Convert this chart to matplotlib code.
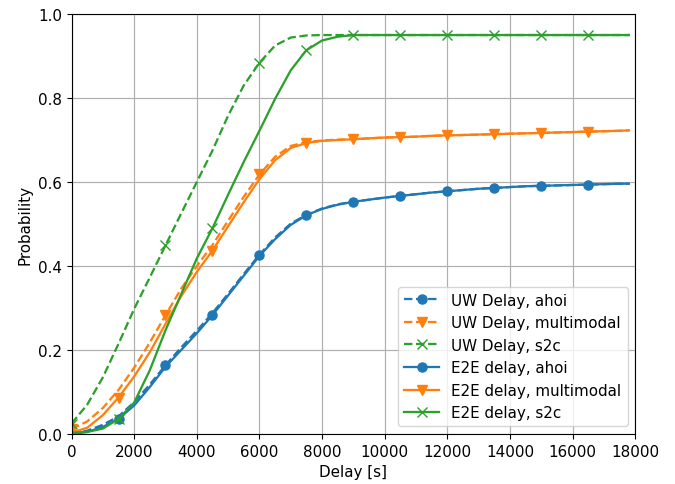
import matplotlib
matplotlib.use("Agg")
import matplotlib.pyplot as plt
import numpy as np

S = 1.09
plt.rcParams['font.size'] = 10 * S

delay = list(range(0, 17501, 500)) + [17800]

# tails (x >= 9000, 19 points) shared
blue_tail = [0.553, 0.558, 0.563, 0.567, 0.571, 0.575, 0.578, 0.581, 0.584, 0.586,
             0.588, 0.590, 0.591, 0.592, 0.593, 0.594, 0.595, 0.596, 0.596]
orange_tail = [0.702, 0.704, 0.706, 0.707, 0.708, 0.710, 0.711, 0.712, 0.713, 0.714,
               0.715, 0.716, 0.717, 0.718, 0.719, 0.720, 0.721, 0.722, 0.723]
green_tail = [0.950] * 19

uw_ahoi = [0.0, 0.008, 0.022, 0.042, 0.076, 0.118, 0.164, 0.206, 0.246, 0.288,
           0.334, 0.381, 0.427, 0.468, 0.501, 0.522, 0.537, 0.547] + blue_tail
uw_multimodal = [0.012, 0.030, 0.062, 0.105, 0.158, 0.218, 0.283, 0.346, 0.400, 0.450,
                 0.508, 0.565, 0.618, 0.660, 0.686, 0.695, 0.699, 0.701] + orange_tail
uw_s2c = [0.025, 0.070, 0.135, 0.215, 0.298, 0.373, 0.449, 0.525, 0.600, 0.675,
          0.758, 0.830, 0.884, 0.925, 0.944, 0.949, 0.950, 0.950] + green_tail

e2e_ahoi = [0.0, 0.005, 0.017, 0.036, 0.068, 0.112, 0.160, 0.200, 0.240, 0.283,
            0.330, 0.377, 0.424, 0.464, 0.498, 0.521, 0.536, 0.546] + blue_tail
e2e_multimodal = [0.003, 0.015, 0.045, 0.087, 0.137, 0.195, 0.262, 0.328, 0.386, 0.437,
                  0.495, 0.552, 0.607, 0.652, 0.681, 0.693, 0.698, 0.700] + orange_tail
e2e_s2c = [0.003, 0.005, 0.013, 0.036, 0.075, 0.152, 0.247, 0.333, 0.418, 0.490,
           0.570, 0.648, 0.722, 0.798, 0.866, 0.914, 0.937, 0.946] + green_tail

labels = ["UW Delay, ahoi", "UW Delay, multimodal", "UW Delay, s2c",
          "E2E delay, ahoi", "E2E delay, multimodal", "E2E delay, s2c"]

fig = plt.figure(figsize=(6.75, 4.85), dpi=100)
ax = fig.add_axes([0.106, 0.103, 0.835, 0.866])

lw = 1.5 * S
ms = 6 * S
c_b, c_o, c_g = "#1f77b4", "#ff7f0e", "#2ca02c"
ax.plot(delay, uw_ahoi, '--', color=c_b, marker='o', lw=lw, ms=ms, markevery=slice(0, 35, 6), label=labels[0])
ax.plot(delay, uw_multimodal, '--', color=c_o, marker='v', lw=lw, ms=ms, markevery=slice(0, 35, 6), label=labels[1])
ax.plot(delay, uw_s2c, '--', color=c_g, marker='x', lw=lw, ms=ms, markevery=slice(0, 35, 6), label=labels[2])
ax.plot(delay, e2e_ahoi, '-', color=c_b, marker='o', lw=lw, ms=ms, markevery=slice(3, 35, 6), label=labels[3])
ax.plot(delay, e2e_multimodal, '-', color=c_o, marker='v', lw=lw, ms=ms, markevery=slice(3, 35, 6), label=labels[4])
ax.plot(delay, e2e_s2c, '-', color=c_g, marker='x', lw=lw, ms=ms, markevery=slice(3, 35, 6), label=labels[5])

ax.set_xlim(0, 18000)
ax.set_ylim(0, 1.0)
ax.set_xticks(range(0, 18001, 2000))
ax.set_yticks(np.arange(0, 1.01, 0.2))
ax.grid(True, color="#b0b0b0", lw=0.8 * S)
ax.set_xlabel("Delay [s]")
ax.set_ylabel("Probability")
ax.legend(loc="lower right", handlelength=2.3)

fig.savefig("out.png", dpi=100)
